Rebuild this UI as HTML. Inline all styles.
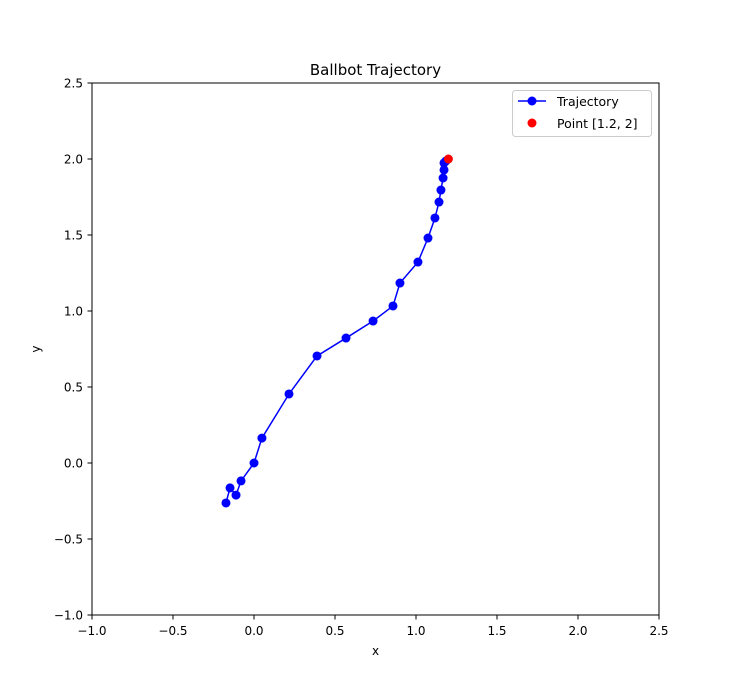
<!DOCTYPE html>
<html><head><meta charset="utf-8"><style>
body{margin:0;background:#fff;font-family:"Liberation Sans","DejaVu Sans",sans-serif;}
text{font-family:"DejaVu Sans","Liberation Sans",sans-serif;}
</style></head><body>
<svg id="chart" width="732" height="691" xmlns="http://www.w3.org/2000/svg">
<rect width="732" height="691" fill="#fff"/>
<text x="375.5" y="75" font-size="15" text-anchor="middle">Ballbot Trajectory</text>
<g id="axes"></g>
<g id="marks"></g>
<rect x="92" y="83" width="567" height="532" fill="none" stroke="#000" stroke-width="1"/>
<text x="375.5" y="655" font-size="12" text-anchor="middle">x</text>
<text x="40" y="349" font-size="12" text-anchor="middle" transform="rotate(-90 40 349)">y</text>
<g>
<rect x="512.5" y="90.5" width="139" height="46" rx="3" fill="#fff" stroke="#ccc"/>
<g>
<line x1="518" y1="101" x2="546" y2="101" stroke="#0000ff" stroke-width="1.5"/>
<circle cx="532" cy="101" r="4.5" fill="#0000ff"/>
<text x="557" y="106" font-size="12.5">Trajectory</text></g>
<g>
<circle cx="532" cy="123" r="4.5" fill="#ff0000"/>
<text x="557" y="128" font-size="12.5">Point [1.2, 2]</text></g>
</g>
</svg>
<script>
const xs=[-0.173,-0.148,-0.111,-0.080,0.0,0.049,0.216,0.389,0.568,0.735,0.858,0.901,1.012,1.074,1.117,1.142,1.154,1.167,1.173,1.173,1.185];
const ys=[-0.263,-0.164,-0.211,-0.118,0.0,0.164,0.454,0.704,0.822,0.934,1.033,1.184,1.322,1.480,1.612,1.717,1.796,1.875,1.928,1.974,1.987];
const targetX=[1.2];
const targetY=[2];
const xTicks=[-1.0,-0.5,0.0,0.5,1.0,1.5,2.0,2.5];
const yTicks=[-1.0,-0.5,0.0,0.5,1.0,1.5,2.0,2.5];
const NS="http://www.w3.org/2000/svg";
function sx(v){return 92+(v+1)/3.5*567;}
function sy(v){return 615-(v+1)/3.5*532;}
function fmt(v){return v.toFixed(1).replace('-','\u2212');}
function mk(t,a,p){const e=document.createElementNS(NS,t);for(const k in a)e.setAttribute(k,a[k]);p.appendChild(e);return e;}
const ax=document.getElementById('axes'),mg=document.getElementById('marks');
xTicks.forEach(v=>{const x=sx(v);
const l=mk('line',{x1:x,y1:615,x2:x,y2:619.5,stroke:'#000'},ax);


const t=mk('text',{x:x,y:635,'font-size':12,'text-anchor':'middle'},ax);t.textContent=fmt(v);

});
yTicks.forEach(v=>{const y=sy(v);
const l=mk('line',{x1:87.5,y1:y,x2:92,y2:y,stroke:'#000'},ax);


const t=mk('text',{x:83,y:y+4.5,'font-size':12,'text-anchor':'end'},ax);t.textContent=fmt(v);

});
const pl=mk('polyline',{points:xs.map((v,i)=>sx(v)+','+sy(ys[i])).join(' '),fill:'none',stroke:'#0000ff','stroke-width':1.5},mg);


xs.forEach((v,i)=>{const c=mk('circle',{cx:sx(v),cy:sy(ys[i]),r:4.5,fill:'#0000ff'},mg);

});
targetX.forEach((v,i)=>{const c=mk('circle',{cx:sx(v),cy:sy(targetY[i]),r:4.5,fill:'#ff0000'},mg);

});
</script>
</body></html>
